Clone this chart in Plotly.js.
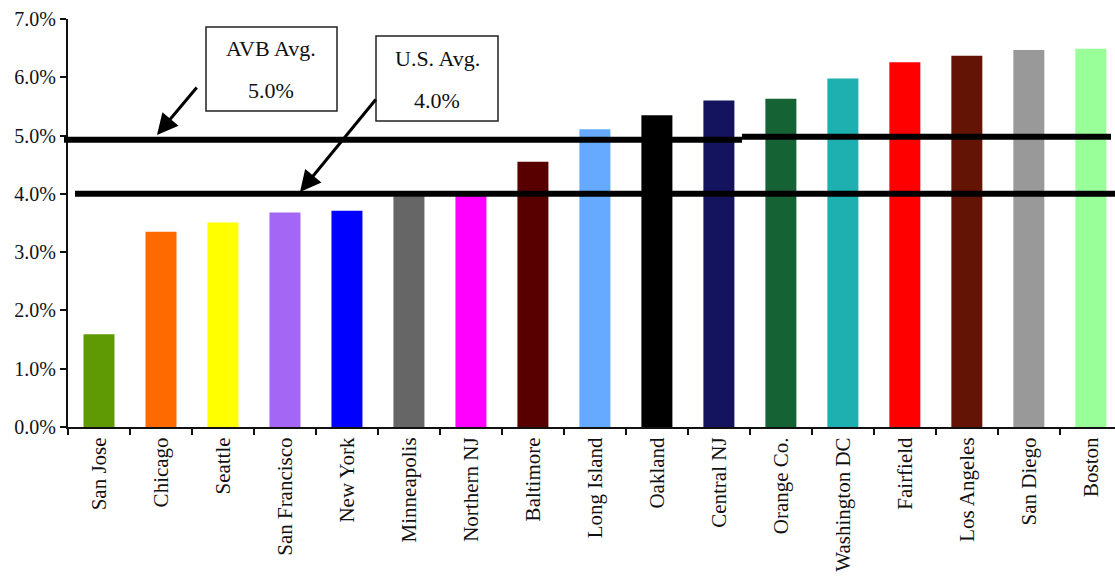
<!DOCTYPE html>
<html>
<head>
<meta charset="utf-8">
<script src="https://cdn.plot.ly/plotly-3.0.1.min.js"></script>
<style>html,body{margin:0;padding:0;background:#fff;}#chart{width:1115px;height:587px;}</style>
</head>
<body>
<div id="chart"></div>
<script>
const cities = ["San Jose","Chicago","Seattle","San Francisco","New York","Minneapolis","Northern NJ","Baltimore","Long Island","Oakland","Central NJ","Orange Co.","Washington DC","Fairfield","Los Angeles","San Diego","Boston"];
const growth = [1.59,3.35,3.51,3.68,3.71,3.96,3.98,4.55,5.11,5.35,5.60,5.63,5.98,6.26,6.37,6.47,6.49];
const barColors = ["#5f9a05","#ff6a00","#ffff00","#a366f5","#0000ff","#666666","#ff00ff","#580000","#66aaff","#000000","#14145e","#156235","#1eb0b0","#ff0000","#641405","#999999","#99ff99"];
const yTicks = [0,1,2,3,4,5,6,7];
const avbLabel = ["AVB Avg.","5.0%"];
const usLabel = ["U.S. Avg.","4.0%"];
const avbLineLeft = 4.93, avbLineRight = 4.98;
const usLine = 4.0;

const L = 68, T = 19, W = 1047, H = 408;
const px = x => (x - L) / W;
const py = y => (T + H - y) / H;

const font = {family: "Liberation Serif, Times New Roman, serif", color: "#111"};
const f = s => Object.assign({size:s}, font);

const trace = {
  type: "bar", x: cities, y: growth,
  marker: {color: barColors, line: {width: 0}},
  hoverinfo: "x+y"
};

const shapes = [
  {type:"line", xref:"paper", yref:"y", x0:px(64), x1:px(742), y0:avbLineLeft, y1:avbLineLeft, line:{color:"#000", width:6}},
  {type:"line", xref:"paper", yref:"y", x0:px(742), x1:px(1111), y0:avbLineRight, y1:avbLineRight, line:{color:"#000", width:6}},
  {type:"line", xref:"paper", yref:"y", x0:px(75), x1:1, y0:usLine, y1:usLine, line:{color:"#000", width:6}},
  {type:"rect", xref:"paper", yref:"paper", x0:px(206), x1:px(337), y0:py(111), y1:py(27), line:{color:"#222", width:1.5}, fillcolor:"#fff"},
  {type:"rect", xref:"paper", yref:"paper", x0:px(376), x1:px(498), y0:py(121), y1:py(36), line:{color:"#222", width:1.5}, fillcolor:"#fff"}
];

const txt = (x, y, t) => ({xref:"paper", yref:"paper", x:px(x), y:py(y), xanchor:"center", yanchor:"middle", text:t, showarrow:false, font:f(22)});

const annotations = [
  txt(271, 49, avbLabel[0]),
  txt(271, 90, avbLabel[1]),
  txt(437, 58, usLabel[0]),
  txt(437, 101, usLabel[1]),
  {xref:"paper", yref:"paper", x:px(157), y:py(135), ax:41, ay:-49, text:"", showarrow:true, arrowhead:2, arrowsize:1.4, arrowwidth:3, arrowcolor:"#000"},
  {xref:"paper", yref:"paper", x:px(300), y:py(192), ax:77, ay:-94, text:"", showarrow:true, arrowhead:2, arrowsize:1.4, arrowwidth:3, arrowcolor:"#000"}
];

const layout = {
  width:1115, height:587,
  margin:{l:L, r:1115-L-W, t:T, b:587-T-H, pad:0},
  paper_bgcolor:"#fff", plot_bgcolor:"#fff",
  bargap:0.5,
  showlegend:false,
  font:font,
  xaxis:{
    type:"category", range:[-0.5, 16.39],
    showline:true, linecolor:"#111", linewidth:2,
    ticks:"outside", tickson:"boundaries", ticklen:6, tickwidth:2, tickcolor:"#111",
    tickangle:-90, tickfont:f(21),
    showgrid:false, zeroline:false, fixedrange:true
  },
  yaxis:{
    range:[0,7], tickvals:yTicks, ticktext:yTicks.map(v => v.toFixed(1) + "%"),
    showline:true, linecolor:"#111", linewidth:2,
    ticks:"outside", ticklen:6, tickwidth:2, tickcolor:"#111",
    tickfont:f(20),
    showgrid:false, zeroline:false, fixedrange:true
  },
  shapes:shapes,
  annotations:annotations
};

Plotly.newPlot("chart", [trace], layout, {displayModeBar:false, staticPlot:true});
</script>
</body>
</html>
